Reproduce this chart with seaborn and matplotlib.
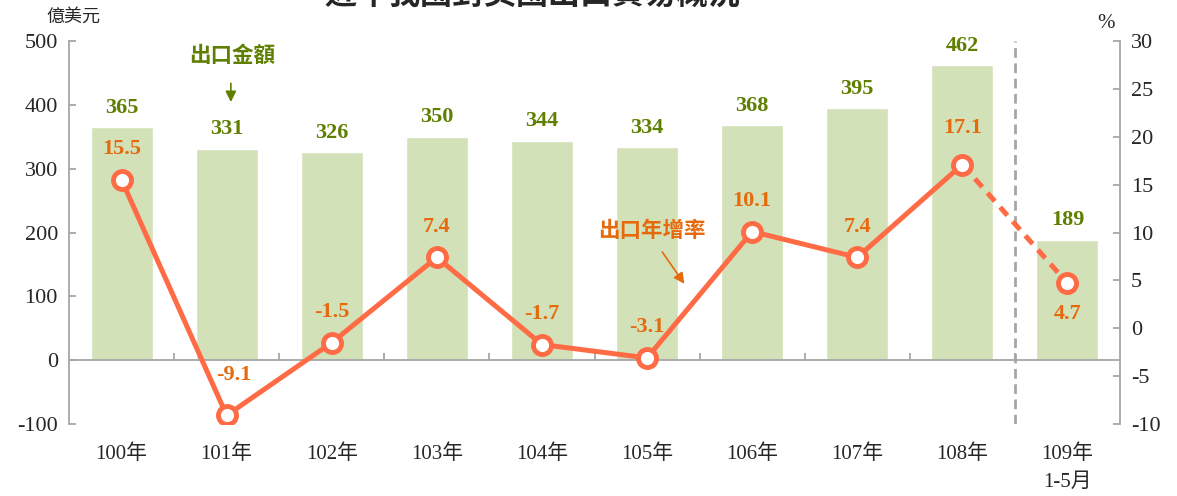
import matplotlib
matplotlib.use("Agg")
import matplotlib.pyplot as plt
import seaborn as sns
import pandas as pd
import numpy as np

# data
years = ["100年", "101年", "102年", "103年", "104年", "105年", "106年", "107年", "108年", "109年\n1-5月"]
exports = [365, 331, 326, 350, 344, 334, 368, 395, 462, 189]        # 億美元
growth = [15.5, -9.1, -1.5, 7.4, -1.7, -3.1, 10.1, 7.4, 17.1, 4.7]  # %

title = "近年我國對美國出口貿易概況"

sns.set_style("white")
plt.rcParams['font.family'] = ['Liberation Serif', 'Noto Sans CJK TC', 'DejaVu Sans']
plt.rcParams['axes.unicode_minus'] = False

bar_c = "#d3e1b8"
green_txt = "#5e7f00"
line_c = "#ff6b45"
orange_txt = "#e6690c"
grey = "#a6a6a6"

df = pd.DataFrame({"year": years, "exports": exports, "growth": growth, "x": np.arange(len(years))})

fig = plt.figure(figsize=(11.77, 4.96), dpi=100)
ax1 = fig.add_axes([69/1177, 1 - 424/496, (1120 - 69)/1177, (424 - 41)/496])

sns.barplot(data=df, x="year", y="exports", color=bar_c, width=0.59, saturation=1, ax=ax1)
ax1.set_xlim(-0.5, len(years) - 0.5)
ax1.set_ylim(-100, 500)
ax1.set_yticks(range(-100, 501, 100))
ax1.set_xlabel("")
ax1.set_ylabel("")

# zero line with small category dividers
ax1.axhline(0, color=grey, lw=1.3, zorder=3)
ax1.vlines(np.arange(len(years) - 1) + 0.5, 0, 11, color=grey, lw=1.3, zorder=3)
# separator before partial year
ax1.axvline(len(years) - 1.5, color=grey, lw=2, ls=(0, (3.5, 2)), zorder=3)

for s in ["top", "right", "bottom"]:
    ax1.spines[s].set_visible(False)
ax1.spines["left"].set_color(grey)
ax1.spines["left"].set_linewidth(1.3)
ax1.tick_params(axis="y", direction="in", length=5, color=grey, width=1.3, labelsize=16, pad=8)
ax1.tick_params(axis="x", length=0, labelsize=15, pad=15)
for lab in ax1.get_xticklabels():
    lab.set_linespacing(1.6)

for i, v in enumerate(exports):
    ax1.annotate(str(v), (i, v), xytext=(0, 14), textcoords="offset points",
                 ha="center", va="center", fontsize=16, fontweight="bold", color=green_txt)

# growth line on right axis
ax2 = ax1.twinx()
n = len(years)
sns.lineplot(x=df["x"][:n - 1], y=df["growth"][:n - 1], color=line_c, lw=3.6, ax=ax2, zorder=4)
sns.lineplot(x=df["x"][n - 2:], y=df["growth"][n - 2:], color=line_c, lw=3.6, ls=(0, (2.2, 1.6)), ax=ax2, zorder=4)
ax2.plot(df["x"], df["growth"], ls="none", marker="o", ms=13, mfc="white", mec=line_c, mew=3.5, zorder=5)
ax2.set_ylim(-10, 30)
ax2.set_yticks(range(-10, 31, 5))
ax2.set_xlim(-0.5, n - 0.5)
ax2.set_xlabel("")
ax2.set_ylabel("")
for s in ["top", "left", "bottom"]:
    ax2.spines[s].set_visible(False)
ax2.spines["right"].set_color(grey)
ax2.spines["right"].set_linewidth(1.3)
ax2.tick_params(axis="y", direction="in", length=5, color=grey, width=1.3, labelsize=16, pad=8)

for i, v in enumerate(growth):
    dx, dy = 0, 22
    if i == n - 1:
        dy = -22
    elif v < -5:
        dx, dy = 5, 29
    elif v > 16:
        dy = 26
    ax2.annotate(f"{v:.1f}", (i, v), xytext=(dx, dy), textcoords="offset points",
                 ha="center", va="center", fontsize=16, fontweight="bold", color=orange_txt, zorder=6)

# series callouts
ax1.annotate("", xy=(1.04, 400), xytext=(1.04, 438),
             arrowprops=dict(arrowstyle="-|>", color=green_txt, lw=1.2, mutation_scale=16))
ax1.text(1.05, 478, "出口金額", ha="center", va="center", fontsize=15.5, fontweight="bold",
         color=green_txt, family=['Noto Sans CJK TC'])
ax2.annotate("", xy=(5.37, 4.4), xytext=(5.13, 8.2),
             arrowprops=dict(arrowstyle="-|>", color=orange_txt, lw=1.2, mutation_scale=16))
ax2.text(5.05, 10.2, "出口年增率", ha="center", va="center", fontsize=15.5, fontweight="bold",
         color=orange_txt, family=['Noto Sans CJK TC'])

# axis units
fig.text(73/1177, 1 - 17/496, "億美元", ha="center", va="center", fontsize=13,
         family=['Noto Sans CJK TC'])
fig.text(1106/1177, 1 - 23/496, "%", ha="center", va="center", fontsize=15)

# title sits mostly above the canvas
fig.text(532/1177, 1 - 4/496, title, ha="center", va="baseline", fontsize=23, fontweight="bold",
         family=['Noto Sans CJK TC'])

fig.savefig("out.png", dpi=100)
